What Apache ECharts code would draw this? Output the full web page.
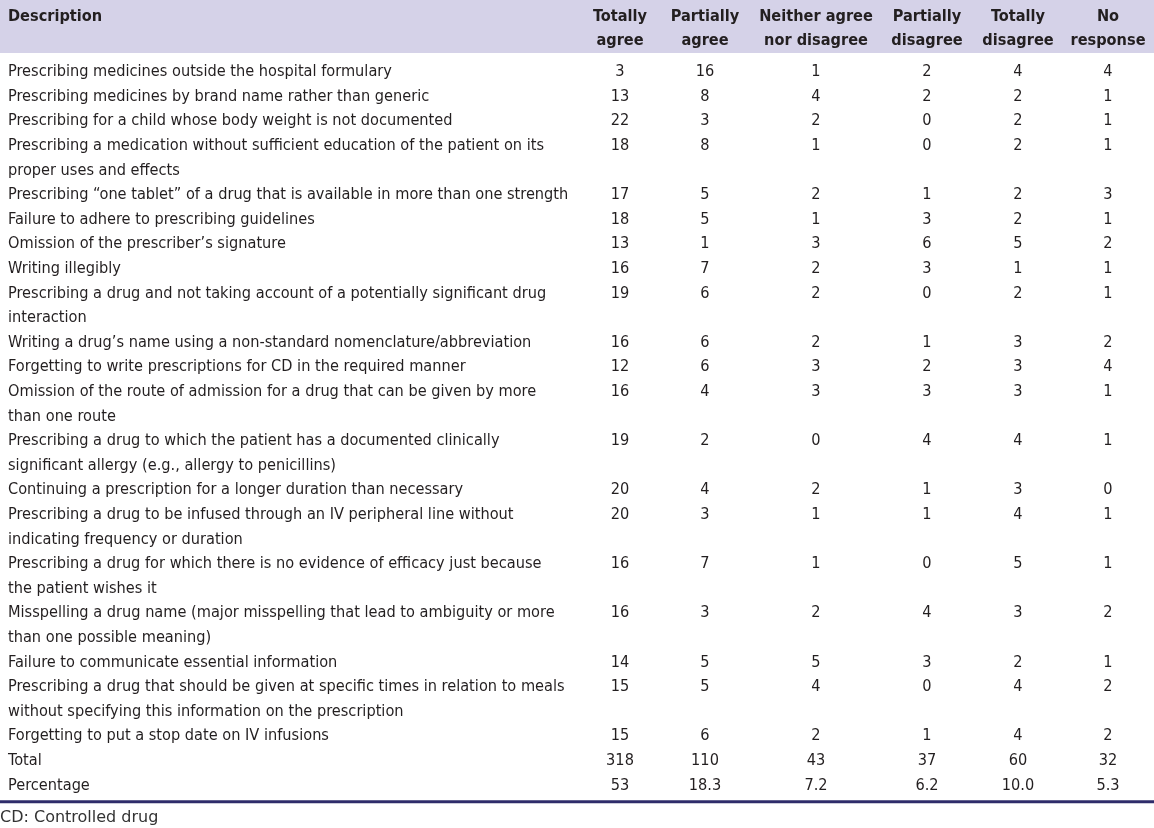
<!DOCTYPE html>
<html><head><meta charset="utf-8">
<script src="https://cdn.jsdelivr.net/npm/echarts@6/dist/echarts.min.js"></script>
<style>html,body{margin:0;padding:0;background:#fff}#c{width:1154px;height:828px}</style>
</head><body><div id="c"></div>
<script>
// ---- data ----
const headers = [["Description"],["Totally","agree"],["Partially","agree"],["Neither agree","nor disagree"],["Partially","disagree"],["Totally","disagree"],["No","response"]];
const descriptions = [
 ["Prescribing medicines outside the hospital formulary"],
 ["Prescribing medicines by brand name rather than generic"],
 ["Prescribing for a child whose body weight is not documented"],
 ["Prescribing a medication without sufficient education of the patient on its","proper uses and effects"],
 ["Prescribing \u201cone tablet\u201d of a drug that is available in more than one strength"],
 ["Failure to adhere to prescribing guidelines"],
 ["Omission of the prescriber\u2019s signature"],
 ["Writing illegibly"],
 ["Prescribing a drug and not taking account of a potentially significant drug","interaction"],
 ["Writing a drug\u2019s name using a non-standard nomenclature/abbreviation"],
 ["Forgetting to write prescriptions for CD in the required manner"],
 ["Omission of the route of admission for a drug that can be given by more","than one route"],
 ["Prescribing a drug to which the patient has a documented clinically","significant allergy (e.g., allergy to penicillins)"],
 ["Continuing a prescription for a longer duration than necessary"],
 ["Prescribing a drug to be infused through an IV peripheral line without","indicating frequency or duration"],
 ["Prescribing a drug for which there is no evidence of efficacy just because","the patient wishes it"],
 ["Misspelling a drug name (major misspelling that lead to ambiguity or more","than one possible meaning)"],
 ["Failure to communicate essential information"],
 ["Prescribing a drug that should be given at specific times in relation to meals","without specifying this information on the prescription"],
 ["Forgetting to put a stop date on IV infusions"],
 ["Total"],
 ["Percentage"]
];
const totallyAgree      = [3,13,22,18,17,18,13,16,19,16,12,16,19,20,20,16,16,14,15,15,318,"53"];
const partiallyAgree    = [16,8,3,8,5,5,1,7,6,6,6,4,2,4,3,7,3,5,5,6,110,"18.3"];
const neither           = [1,4,2,1,2,1,3,2,2,2,3,3,0,2,1,1,2,5,4,2,43,"7.2"];
const partiallyDisagree = [2,2,0,0,1,3,6,3,0,1,2,3,4,1,1,0,4,3,0,1,37,"6.2"];
const totallyDisagree   = [4,2,2,2,2,2,5,1,2,3,3,3,4,3,4,5,3,2,4,4,60,"10.0"];
const noResponse        = [4,1,1,1,3,1,2,1,1,2,4,1,1,0,1,1,2,1,2,2,32,"5.3"];
const footnote = "CD: Controlled drug";

// ---- layout ----
const COL_X = [8, 620, 705, 816, 927, 1018, 1108];
const LINE0 = 72, LINE_H = 24.6;
const FONT = "'DejaVu Sans Condensed', 'Liberation Sans Narrow', sans-serif";
const FS = 16.2;
const INK = '#231f20';

const columns = [totallyAgree, partiallyAgree, neither, partiallyDisagree, totallyDisagree, noResponse];
const cells = [];
// header
headers.forEach((h, ci) => h.forEach((t, li) => cells.push([COL_X[ci], -2.24 + li * 0.98, t, ci === 0 ? 'left' : 'center', 1])));
let line = 0;
descriptions.forEach((d, ri) => {
  d.forEach((t, li) => cells.push([COL_X[0], line + li, t, 'left', 0]));
  columns.forEach((col, ci) => cells.push([COL_X[ci + 1], line, String(col[ri]), 'center', 0]));
  line += d.length;
});

const yMin = -LINE0 / LINE_H, yMax = (828 - LINE0) / LINE_H;
const chart = echarts.init(document.getElementById('c'), null, {renderer: 'canvas'});
chart.setOption({
  animation: false,
  grid: {left: 0, right: 0, top: 0, bottom: 0},
  xAxis: {type: 'value', min: 0, max: 1154, show: false},
  yAxis: {type: 'value', min: yMin, max: yMax, inverse: true, show: false},
  series: [
    {
      type: 'custom', silent: true, z: 1,
      data: [[0, yMin, 1154, -0.772]],
      renderItem: (params, api) => {
        const a = api.coord([api.value(0), api.value(1)]);
        const b = api.coord([api.value(2), api.value(3)]);
        return {type: 'rect', shape: {x: a[0], y: a[1], width: b[0] - a[0], height: b[1] - a[1]}, style: {fill: '#d5d2e8'}};
      }
    },
    {
      type: 'custom', silent: true, z: 2,
      data: [[0, 29.66, 1154]],
      renderItem: (params, api) => {
        const a = api.coord([api.value(0), api.value(1)]);
        const b = api.coord([api.value(2), api.value(1)]);
        return {type: 'line', shape: {x1: a[0], y1: a[1], x2: b[0], y2: b[1]}, style: {stroke: '#2e2c6a', lineWidth: 3}};
      }
    },
    {
      type: 'custom', silent: true, z: 3,
      data: cells,
      renderItem: (params, api) => {
        const d = cells[params.dataIndex];
        const p = api.coord([d[0], d[1]]);
        return {type: 'text', x: p[0], y: p[1], style: {
          text: d[2], fill: INK, fontFamily: FONT, fontSize: FS, fontWeight: d[4] ? 'bold' : 'normal',
          align: d[3], verticalAlign: 'middle'}};
      }
    },
    {
      type: 'custom', silent: true, z: 3,
      data: [[0, 30.32]],
      renderItem: (params, api) => {
        const p = api.coord([api.value(0), api.value(1)]);
        return {type: 'text', x: p[0], y: p[1], style: {text: footnote, fill: '#333', fontFamily: "'DejaVu Sans', sans-serif", fontSize: 16, align: 'left', verticalAlign: 'middle'}};
      }
    }
  ]
});
</script>
</body></html>
